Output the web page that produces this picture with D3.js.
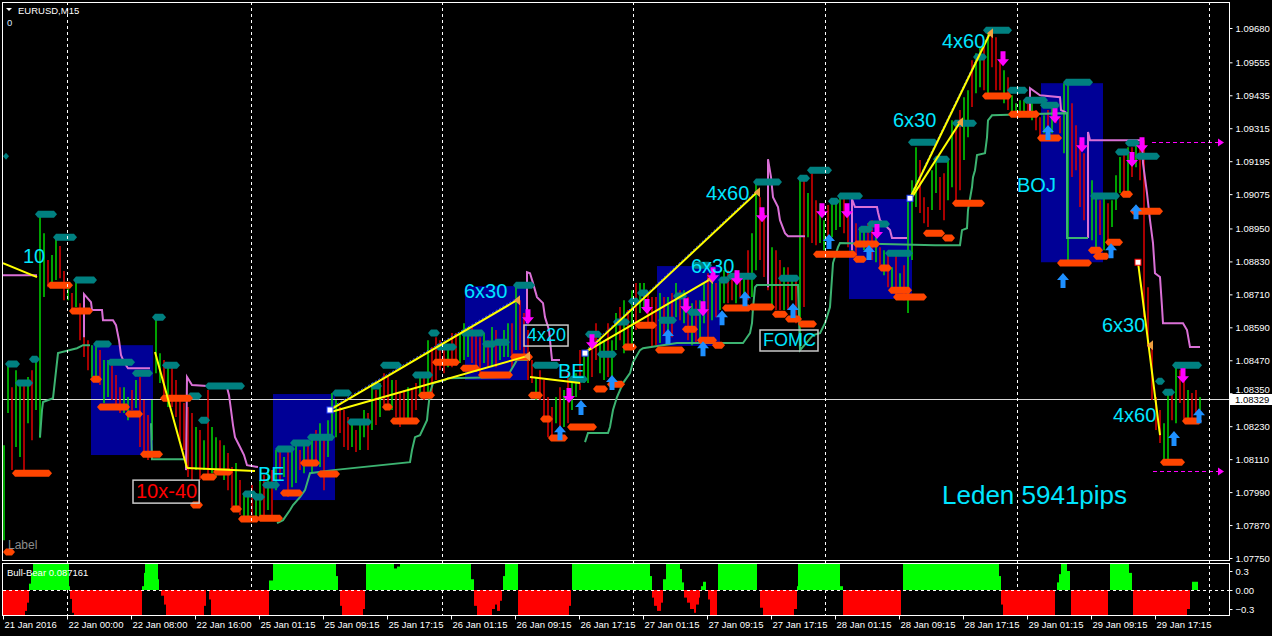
<!DOCTYPE html>
<html>
<head>
<meta charset="utf-8">
<script src="https://cdnjs.cloudflare.com/ajax/libs/d3/7.8.5/d3.min.js"></script>
<style>
body { margin: 0; background: #000; }
svg { display: block; font-family: "Liberation Sans", Arial, sans-serif; }
</style>
</head>
<body>
<script>
// ---- data (bar index = M15 bars from 21 Jan 16:00) ----
var timeLabels = ["21 Jan 2016","22 Jan 00:00","22 Jan 08:00","22 Jan 16:00","25 Jan 01:15","25 Jan 09:15","25 Jan 17:15",
	"26 Jan 01:15","26 Jan 09:15","26 Jan 17:15","27 Jan 01:15","27 Jan 09:15","27 Jan 17:15","28 Jan 01:15",
	"28 Jan 09:15","28 Jan 17:15","29 Jan 01:15","29 Jan 09:15","29 Jan 17:15"];
var timeBars = [0,32,64,96,128,160,192,224,256,288,320,352,384,416,448,480,512,544,576];
var dayBars = [32,124,219.5,315,411,507,603];

var priceTicks = [1.09680,1.09555,1.09435,1.09315,1.09195,1.09075,1.08950,1.08830,1.08710,1.08590,
	1.08470,1.08350,1.08230,1.08110,1.07990,1.07870,1.07750];
var lastPrice = 1.08329;

// one candle every 2 bars
var candleHigh = [
1.08161,1.08460,1.08372,1.08434,1.08380,1.08398,1.08409,1.08434,1.08482,1.08998,
1.08933,1.08835,1.08853,1.08915,1.08886,1.08795,1.08736,1.08715,1.08755,1.08678,
1.08616,1.08543,1.08525,1.08533,1.08507,1.08471,1.08471,1.08452,1.08416,1.08372,
1.08372,1.08336,1.08362,1.08398,1.08409,1.08325,1.08271,1.08325,1.08624,1.08496,
1.08471,1.08460,1.08445,1.08398,1.08336,1.08314,1.08300,1.08278,1.08227,1.08216,
1.08179,1.08362,1.08227,1.08190,1.08179,1.08161,1.08132,1.08081,1.08096,1.08034,
1.07987,1.07979,1.08016,1.07987,1.08034,1.08052,1.08070,1.08070,1.08143,1.08143,
1.08118,1.08143,1.08154,1.08179,1.08143,1.08169,1.08161,1.08190,1.08216,1.08241,
1.08190,1.08252,1.08351,1.08325,1.08300,1.08289,1.08263,1.08252,1.08216,1.08252,
1.08289,1.08278,1.08387,1.08362,1.08387,1.08423,1.08409,1.08398,1.08398,1.08351,
1.08362,1.08372,1.08362,1.08387,1.08409,1.08416,1.08543,1.08518,1.08554,1.08543,
1.08533,1.08507,1.08569,1.08569,1.08569,1.08605,1.08591,1.08591,1.08580,1.08554,
1.08569,1.08543,1.08591,1.08580,1.08533,1.08580,1.08605,1.08605,1.08751,1.08689,
1.08642,1.08580,1.08471,1.08409,1.08434,1.08398,1.08336,1.08300,1.08336,1.08372,
1.08362,1.08423,1.08409,1.08423,1.08507,1.08507,1.08507,1.08518,1.08605,1.08554,
1.08543,1.08605,1.08543,1.08642,1.08664,1.08689,1.08653,1.08725,1.08751,1.08751,
1.08751,1.08715,1.08700,1.08700,1.08715,1.08700,1.08700,1.08715,1.08751,1.08725,
1.08725,1.08700,1.08678,1.08689,1.08689,1.08751,1.08787,1.08751,1.08751,1.08762,
1.08798,1.08798,1.08787,1.08798,1.08787,1.08787,1.08871,1.08933,1.09115,1.09064,
1.09006,1.08991,1.08882,1.08871,1.08835,1.08809,1.08809,1.08773,1.08773,1.09133,
1.09137,1.09079,1.09151,1.09053,1.09042,1.08980,1.09035,1.09053,1.09053,1.09064,
1.09064,1.09006,1.09006,1.08969,1.08955,1.08955,1.08969,1.08980,1.08933,1.08882,
1.08871,1.08860,1.08809,1.08860,1.08787,1.08816,1.09053,1.09126,1.09246,1.09199,
1.09064,1.09028,1.09162,1.09199,1.09137,1.09151,1.09199,1.09344,1.09344,1.09381,
1.09428,1.09453,1.09563,1.09588,1.09610,1.09617,1.09661,1.09661,1.09646,1.09563,
1.09526,1.09501,1.09435,1.09406,1.09417,1.09417,1.09406,1.09406,1.09381,1.09355,
1.09362,1.09381,1.09392,1.09392,1.09355,1.09479,1.09479,1.09406,1.09326,1.09271,
1.09224,1.09188,1.09126,1.09079,1.09053,1.09079,1.09042,1.09053,1.09144,1.09210,
1.09235,1.09246,1.09246,1.09261,1.09246,1.09271,1.08736,1.08518,1.08336,1.08289,
1.08241,1.08351,1.08351,1.08445,1.08434,1.08423,1.08362,1.08351,1.08362,1.08336];
var candleLow = [
1.07815,1.08278,1.08070,1.08154,1.08118,1.08070,1.08241,1.08179,1.08289,1.08187,
1.08700,1.08736,1.08736,1.08762,1.08769,1.08689,1.08689,1.08642,1.08664,1.08543,
1.08482,1.08434,1.08409,1.08409,1.08380,1.08314,1.08336,1.08325,1.08307,1.08278,
1.08278,1.08252,1.08289,1.08296,1.08154,1.08132,1.08107,1.08179,1.08423,1.08387,
1.08325,1.08300,1.08300,1.08263,1.08179,1.08143,1.08045,1.08034,1.08070,1.08034,
1.08070,1.08045,1.08059,1.08045,1.08070,1.08034,1.07997,1.07936,1.07925,1.07907,
1.07888,1.07888,1.07907,1.07899,1.07899,1.07907,1.07925,1.07899,1.07997,1.08034,
1.08045,1.07972,1.08008,1.08023,1.08070,1.08059,1.08088,1.08059,1.08088,1.08081,
1.07997,1.08118,1.08179,1.08190,1.08205,1.08154,1.08143,1.08154,1.08136,1.08143,
1.08190,1.08143,1.08216,1.08234,1.08263,1.08300,1.08289,1.08289,1.08263,1.08227,
1.08252,1.08252,1.08241,1.08289,1.08336,1.08325,1.08336,1.08351,1.08398,1.08434,
1.08423,1.08445,1.08445,1.08452,1.08460,1.08471,1.08482,1.08460,1.08434,1.08423,
1.08460,1.08445,1.08445,1.08445,1.08471,1.08482,1.08482,1.08445,1.08507,1.08507,
1.08482,1.08398,1.08387,1.08325,1.08325,1.08263,1.08190,1.08190,1.08241,1.08216,
1.08227,1.08241,1.08289,1.08336,1.08362,1.08387,1.08387,1.08409,1.08471,1.08423,
1.08398,1.08409,1.08409,1.08507,1.08543,1.08496,1.08507,1.08518,1.08580,1.08642,
1.08653,1.08591,1.08518,1.08525,1.08533,1.08562,1.08580,1.08554,1.08627,1.08616,
1.08605,1.08543,1.08525,1.08533,1.08533,1.08605,1.08554,1.08616,1.08627,1.08653,
1.08678,1.08678,1.08689,1.08678,1.08700,1.08678,1.08689,1.08700,1.08798,1.08835,
1.08773,1.08725,1.08664,1.08653,1.08653,1.08653,1.08653,1.08689,1.08605,1.08507,
1.08664,1.08918,1.08897,1.08889,1.08897,1.08871,1.08889,1.08918,1.08944,1.08955,
1.08933,1.08882,1.08860,1.08846,1.08882,1.08871,1.08853,1.08835,1.08827,1.08809,
1.08780,1.08736,1.08736,1.08700,1.08715,1.08689,1.08642,1.08835,1.09028,1.09006,
1.08969,1.08955,1.09017,1.09079,1.09017,1.08980,1.09053,1.09100,1.09042,1.09089,
1.09199,1.09282,1.09392,1.09442,1.09464,1.09453,1.09428,1.09537,1.09453,1.09453,
1.09406,1.09381,1.09362,1.09370,1.09355,1.09370,1.09355,1.09344,1.09308,1.09282,
1.09297,1.09271,1.09297,1.09333,1.09297,1.09224,1.08835,1.09137,1.09162,1.09028,
1.08980,1.08969,1.08907,1.08882,1.08926,1.08871,1.08897,1.08955,1.09017,1.09079,
1.09071,1.09079,1.09137,1.09173,1.09126,1.08627,1.08518,1.08325,1.08216,1.08169,
1.08096,1.08107,1.08252,1.08241,1.08314,1.08252,1.08241,1.08252,1.08278,1.08289];
var candleDir = "ggrggrgrgg" + "grggrrgrgr" + "rrggrggrrr" + "ggrgrrrggg" + "rgrrrrrrgr" +
	"grggrgrrgr" + "ggrggrgrgr" + "grggrgrgrg" + "rgggrrrgrg" + "grgrgrrgrr" +
	"rgrrgrgrrr" + "rgrrgggrrr" + "grgrgggrgr" + "rrrgrrrrgr" + "grggrggrrg" +
	"grggrgrgrg" + "grrrgrgrgr" + "grgrggrgrg" + "grrgrgrggr" + "rrgrrgrgrg" +
	"rgrrggrggg" + "rrgrggrrgr" + "grgrgrgggr" + "rrggrrggrr" + "ggrggrgrrr" +
	"grggggrgrr" + "grgrrggrrr" + "rrggrgrggg" + "rgrgrrrrrr" + "ggrgrrgrrg";

// session boxes [fromBar, toBar, top, bottom]
var sessionBoxes = [[44,75,1.08525,1.08125],[135,166,1.08347,1.07961],[231,262,1.08740,1.08398],
	[327,358.5,1.08813,1.08522],[423,454.5,1.09057,1.08693],[519,550,1.09479,1.08827]];

// resistance (teal) and support (orange) levels [fromBar, toBar, price]
var resistLevels = [[0,3,1.09213],[16,27,1.09002],[25,37,1.08918],[35,47,1.08762],[74.5,81.5,1.08627],
	[1,8.5,1.08456],[6,15,1.08387],[13,18.5,1.08474],[45,54.5,1.08529],[52,66,1.08463],[64.5,75,1.08423],
	[79.5,88.5,1.08452],[92,99.5,1.08340],[97.5,103.5,1.08252],[101,121,1.08376],[119.5,127,1.07983],
	[124.5,131,1.07972],[129.5,138.5,1.08016],[136,146,1.08147],[143.5,154.5,1.08169],[152,166,1.08190],
	[164.5,174.5,1.08351],[172,184.5,1.08245],[183.5,189.5,1.08376],[188.5,199.5,1.08452],[212.5,218.5,1.08569],
	[204.5,215,1.08416],[216,227,1.08518],[228.5,241,1.08569],[239.5,247,1.08529],[245,253.5,1.08536],
	[255,266,1.08743],[264.5,278.5,1.08452],[282.5,292.5,1.08401],[291,299.5,1.08565],[297,307,1.08492],
	[305,313.5,1.08609],[312.5,318.5,1.08685],[317,323.5,1.08715],[327.5,337,1.08616],[335,342,1.08704],
	[342,350,1.08645],[344.5,354.5,1.08816],[357.5,363.5,1.08762],[362,377,1.08776],[375,389.5,1.09119],
	[387.5,398.5,1.08769],[397,403.5,1.09133],[402,414.5,1.09162],[412.5,418.5,1.09049],[417,430,1.09068],
	[427.5,435,1.08947],[432,443.5,1.08966],[441,455,1.08860],[452.5,467.5,1.09264],[465,473.5,1.09202],
	[474.5,487,1.09333],[485,492,1.09574],[490,504.5,1.09672],[502,512.5,1.09453],[510,522.5,1.09417],
	[518.5,528.5,1.09399],[530,545,1.09482],[543.5,558.5,1.09068],[556,563.5,1.09228],[561,568.5,1.09261],
	[566,578.5,1.09213],[576,581,1.08394],[579.5,586,1.08354],[584.5,599.5,1.08452]];
var supportLevels = [[22,35,1.08743],[33,45,1.08649],[43.5,49.5,1.08401],[47,63.5,1.08300],[61,70,1.08274],
	[68.5,80,1.08128],[4.5,24.5,1.08059],[78.5,95,1.08332],[93.5,100,1.07943],[98.5,107,1.08045],
	[105,115,1.08063],[113.5,119.5,1.07928],[117.5,128.5,1.07892],[127,140,1.07895],[138.5,150,1.07987],
	[148.5,158.5,1.08096],[157,168.5,1.08056],[0,6,1.07772],[189.5,195,1.08300],[193.5,208.5,1.08249],
	[207.5,216,1.08343],[214.5,228.5,1.08463],[228.5,238.5,1.08441],[237.5,255,1.08416],[253.5,265,1.08482],
	[262.5,270,1.08343],[268.5,275,1.08256],[272.5,282.5,1.08187],[282,297,1.08227],[295,302.5,1.08365],
	[302,311,1.08383],[309.5,317,1.08518],[316,327,1.08598],[326,341,1.08507],[339.5,347.5,1.08583],
	[347,357,1.08543],[354.5,361,1.08525],[359.5,374.5,1.08660],[372.5,386,1.08664],[384.5,392.5,1.08638],
	[391,399.5,1.08620],[397.5,407,1.08602],[405,427,1.08856],[425,432,1.08838],[425,438.5,1.08893],
	[437.5,444.5,1.08806],[442.5,454.5,1.08725],[445,462,1.08700],[460,471,1.08933],[469.5,476,1.08915],
	[474.5,491,1.09042],[489.5,504.5,1.09432],[502.5,518.5,1.09366],[517,529.5,1.09279],[527,544.5,1.08824],
	[542.5,550,1.08871],[545,553.5,1.08849],[551,560,1.08900],[558.5,565,1.09075],[563.5,580,1.09013],
	[578.5,591,1.08099],[589.5,599.5,1.08249]];

// trailing stop lines, one array per unbroken piece [bar, price]
var upperStop = [
	[[0,1.08780],[17,1.08780]],
	[[40.5,1.08554],[40.5,1.08711],[44,1.08682],[44.5,1.08653],[49.5,1.08653],[50,1.08616],[55,1.08616],
	 [56.5,1.08598],[58,1.08543],[59,1.08489],[60.5,1.08463],[62.5,1.08441],[73.5,1.08441]],
	[[91.5,1.08070],[92,1.08409],[94.5,1.08380],[112,1.08372],[113,1.08343],[114,1.08289],[115,1.08234],
	 [116,1.08190],[118.5,1.08154],[120.5,1.08125],[122,1.08088],[127.5,1.08081]],
	[[262,1.08605],[262,1.08791],[263.5,1.08787],[265,1.08751],[267,1.08700],[270,1.08678],[271,1.08627],
	 [273,1.08580],[274,1.08507],[274.5,1.08471],[278.5,1.08471]],
	[[382.5,1.08736],[382.5,1.09202],[384,1.09137],[385,1.09064],[387.5,1.09028],[388.5,1.08980],
	 [391,1.08933],[392.5,1.08922],[401,1.08922]],
	[[424.5,1.08871],[424.5,1.09057],[426,1.09028],[437,1.09028],[437.5,1.09009],[438.5,1.08980],
	 [443.5,1.08944],[444.5,1.08915],[452,1.08915]],
	[[513.5,1.09373],[513.5,1.09461],[518.5,1.09435],[528.5,1.09428],[529,1.09381],[531.5,1.09373]],
	[[542.5,1.08915],[542.5,1.09301],[543.5,1.09271],[569.5,1.09271],[570,1.09188],[572,1.09079],
	 [572.5,1.09046],[573.5,1.08980],[575,1.08897],[576,1.08787],[578.5,1.08773],[579.5,1.08664],
	 [580,1.08605],[590,1.08605],[592,1.08580],[593.5,1.08518],[598.5,1.08518]]];
var lowerStop = [
	[[18.5,1.08190],[19.5,1.08289],[20,1.08318],[25,1.08332],[26,1.08398],[27.5,1.08496],[37,1.08514],
	 [40,1.08525],[43.5,1.08525]],
	[[74,1.08241],[74.5,1.08110],[91,1.08110]],
	[[137,1.07877],[140,1.07888],[143.5,1.07925],[145,1.07943],[148.5,1.07972],[151,1.07997],[153.5,1.08059],
	 [165,1.08070],[203.5,1.08099],[204.5,1.08143],[206,1.08190],[208.5,1.08197],[212,1.08252],[212.5,1.08289],
	 [213.5,1.08351],[215,1.08387],[221,1.08398],[222.5,1.08405],[252,1.08409],[257,1.08471],[262.5,1.08471]],
	[[291,1.08172],[292.5,1.08205],[302.5,1.08205],[303.5,1.08227],[305,1.08289],[307,1.08336],[310,1.08387],
	 [313.5,1.08423],[315,1.08463],[318.5,1.08507],[320,1.08514],[337,1.08533],[370,1.08533],[371,1.08543],
	 [373.5,1.08569],[374.5,1.08605],[375,1.08660],[376,1.08736],[377,1.08744],[397.5,1.08744],
	 [398.5,1.08507],[402,1.08536],[405,1.08562],[408.5,1.08569],[411,1.08605],[413.5,1.08664],[415,1.08824],
	 [417.5,1.08882],[418.5,1.08897],[466,1.08889],[478.5,1.08889],[479.5,1.08944],[482,1.08951],
	 [482.5,1.09017],[484.5,1.09100],[485,1.09137],[486,1.09162],[487,1.09217],[491,1.09224],[492,1.09282],
	 [492.5,1.09344],[494.5,1.09362],[532,1.09370],[532,1.08915],[542.5,1.08915]]];

// trade lines [bar1, price1, bar2, price2]
var tradeLines = [[0,1.08824,17,1.08773],[76,1.08500,92,1.08078],[92,1.08078,126,1.08067],
	[163.5,1.08289,257,1.08689],[163.5,1.08281,262,1.08485],[263.5,1.08409,288.5,1.08387],
	[291,1.08496,377,1.09082],[292,1.08503,353.5,1.08765],[453.5,1.09060,493.5,1.09661],
	[454.5,1.09064,478.5,1.09337],[567.5,1.08827,578.5,1.08197]];
var entryPoints = [[163.5,1.08289],[291,1.08496],[453.5,1.09060]];
var targetPoints = [[257,1.08689],[262,1.08485],[377,1.09082],[353.5,1.08765],[493.5,1.09661],[478.5,1.09337],[573.5,1.08525]];

// signal arrows [bar, price]
var sellArrows = [[262.5,1.08627],[283,1.08340],[294.5,1.08536],[322,1.08664],[341.5,1.08667],[350,1.08656],
	[355,1.08780],[367,1.08769],[379.5,1.08998],[409.5,1.09013],[422,1.09013],[437,1.08937],[500,1.09566],
	[526,1.09359],[539.5,1.09253],[564.5,1.09199],[569.5,1.09253],[590,1.08412]];
var buyArrows = [[289,1.08300],[304.5,1.08391],[278.5,1.08208],[332.5,1.08558],[350,1.08514],[359.5,1.08627],
	[371,1.08696],[395,1.08653],[413,1.08904],[433,1.08864],[522.5,1.09301],[530,1.08762],[554,1.08871],
	[566.5,1.09013],[585.5,1.08187],[598,1.08270]];

// notes [bar, price, text]
var notes = [[10,1.08824,"10"],[66.5,1.07968,"10x-40"],[127.5,1.08030,"BE"],[230.5,1.08696,"6x30"],
	[262,1.08540,"4x20"],[277.5,1.08405,"BE"],[351.5,1.09053,"4x60"],[344,1.08787,"6x30"],
	[380,1.08522,"FOMC"],[445,1.09319,"6x30"],[469.5,1.09606,"4x60"],[507,1.09082,"BOJ"],
	[549.5,1.08573,"6x30"],[555,1.08245,"4x60"],[469.5,1.07946,"Leden 5941pips"],[2.5,1.07783,"Label"]];
var targetArrows = [[574.5,610.5,1.09264],[575,610.5,1.08067]];

// Bull-Bear histogram runs [fromBar, toBar, value]
var bullBear = [[0,11,-0.45],[11,12,-0.33],[12,13,-0.2],[13,14,0.1],[14,15,0.27],[15,33,0.45],[33,33.5,0.06],
	[33.5,34.5,-0.14],[34.5,35.5,-0.36],[35.5,69.5,-0.45],[69.5,70.5,0.06],[70.5,71,0.27],[71,77.5,0.45],
	[77.5,78,0.17],[79,80.5,-0.09],[80.5,81.5,-0.23],[81.5,100.5,-0.45],[100.5,101.5,-0.25],[103,104,-0.15],
	[104,133,-0.45],[133,135,0.15],[135,166.5,0.45],[166.5,167.5,0.22],[168.5,169.5,-0.25],[169.5,180,-0.45],
	[180,181,-0.3],[181.5,195.5,0.45],[195.5,197,0.34],[197,198.5,0.37],[198.5,234,0.45],[234,235.5,0.17],
	[235.5,237,-0.25],[237,244.5,-0.45],[244.5,246,-0.3],[246,247,-0.23],[247,248.5,-0.33],[248.5,249.5,-0.17],
	[250,251,0.22],[251,257.5,0.45],[257.5,283,-0.45],[283,284,-0.25],[284.5,323.5,0.45],[323.5,324.5,0.22],
	[324.5,325.5,-0.12],[325.5,327,-0.25],[327,329,-0.33],[329,330,-0.2],[330,331.5,0.17],[331.5,338.5,0.45],
	[338.5,339.5,0.33],[339.5,340.5,0.12],[340.5,342,-0.12],[342,343.5,-0.2],[343.5,345.5,-0.3],
	[345.5,346.5,-0.36],[346.5,348,-0.23],[348,348.5,-0.12],[349,350,0.06],[350,351.5,0.13],
	[352.5,353.5,-0.15],[353.5,357,-0.45],[357.5,377,0.45],[378.5,380,-0.28],[380,395.5,-0.45],
	[395.5,397,-0.3],[397,397.5,0.06],[397.5,418.5,0.45],[418.5,420,0.06],[420,449,-0.45],[450,498,0.45],
	[498,499,0.22],[499,500,-0.23],[500,526,-0.45],[527,528,0.12],[528,529,0.25],[529,532,0.45],
	[532,533.5,0.3],[534,552.5,-0.45],[553.5,563,0.45],[563,564.5,0.27],[565,592,-0.45],[592,593.5,-0.3],
	[594.5,597.5,0.13]];
var bullBearTicks = [0.3, 0, -0.3];

// ---- drawing ----
var width = 1272, height = 636;
var left = 3, right = 1229, mainTop = 2, mainBottom = 560, subTop = 563, subBottom = 615;

var x = d3.scaleLinear().domain([0, 613]).range([left, right]);
var y = d3.scaleLinear().domain([1.0775, 1.0968]).range([558, 28]);
var ySub = d3.scaleLinear().domain([-0.3, 0.3]).range([609, 571]);

var svg = d3.select("body").append("svg")
	.attr("width", width)
	.attr("height", height)
	.style("background", "#000");

svg.append("clipPath").attr("id", "mainClip")
	.append("rect").attr("x", left).attr("y", mainTop).attr("width", right - left).attr("height", mainBottom - mainTop);
svg.append("clipPath").attr("id", "subClip")
	.append("rect").attr("x", left).attr("y", subTop + 1).attr("width", right - left).attr("height", subBottom - subTop - 1);

var main = svg.append("g").attr("clip-path", "url(#mainClip)");

main.selectAll(".box")
	.data(sessionBoxes)
	.enter().append("rect")
		.attr("x", function(d){ return x(d[0]); })
		.attr("width", function(d){ return x(d[1]) - x(d[0]); })
		.attr("y", function(d){ return y(d[2]); })
		.attr("height", function(d){ return y(d[3]) - y(d[2]); })
		.attr("fill", "#000096");

//day separators
svg.selectAll(".day")
	.data(dayBars)
	.enter().append("line")
		.attr("x1", function(d){ return Math.round(x(d)) + 0.5; })
		.attr("x2", function(d){ return Math.round(x(d)) + 0.5; })
		.attr("y1", mainTop)
		.attr("y2", subBottom)
		.attr("stroke", "#fff")
		.attr("stroke-dasharray", "3,3");

main.append("line")
	.attr("x1", left).attr("x2", right)
	.attr("y1", Math.round(y(lastPrice)) + 0.5).attr("y2", Math.round(y(lastPrice)) + 0.5)
	.attr("stroke", "#d8d8d8");

//candles
main.selectAll(".candle")
	.data(candleHigh)
	.enter().append("line")
		.attr("x1", function(d, i){ return Math.round(x(i * 2)) + 1; })
		.attr("x2", function(d, i){ return Math.round(x(i * 2)) + 1; })
		.attr("y1", function(d){ return y(d); })
		.attr("y2", function(d, i){ return y(candleLow[i]); })
		.attr("stroke", function(d, i){ return candleDir[i] == "g" ? "#00d800" : "#e00000"; })
		.attr("stroke-width", 2)
		.attr("stroke-opacity", 0.75);

var stopLine = d3.line()
	.x(function(d){ return x(d[0]); })
	.y(function(d){ return y(d[1]); });

main.selectAll(".upper")
	.data(upperStop)
	.enter().append("path")
		.attr("d", stopLine)
		.attr("fill", "none")
		.attr("stroke", "#da70d6")
		.attr("stroke-width", 2);
main.selectAll(".lower")
	.data(lowerStop)
	.enter().append("path")
		.attr("d", stopLine)
		.attr("fill", "none")
		.attr("stroke", "#3cb371")
		.attr("stroke-width", 2);

function levelShape(d){
	var x0 = x(d[0]), x1 = x(d[1]), yc = y(d[2]), h = 3.5, e = 3;
	return "M" + x0 + "," + yc + "L" + (x0 + e) + "," + (yc - h) + "L" + (x1 - e) + "," + (yc - h) +
		"L" + x1 + "," + yc + "L" + (x1 - e) + "," + (yc + h) + "L" + (x0 + e) + "," + (yc + h) + "Z";
}
main.selectAll(".res")
	.data(resistLevels)
	.enter().append("path")
		.attr("d", levelShape)
		.attr("fill", "#008080");
main.selectAll(".sup")
	.data(supportLevels)
	.enter().append("path")
		.attr("d", levelShape)
		.attr("fill", "#ff4500");

//trade lines, with the dotted blue guide on the long ones
main.selectAll(".guide")
	.data([tradeLines[3], tradeLines[6], tradeLines[8]])
	.enter().append("line")
		.attr("x1", function(d){ return x(d[0]); })
		.attr("y1", function(d){ return y(d[1]) - 2; })
		.attr("x2", function(d){ return x(d[2]); })
		.attr("y2", function(d){ return y(d[3]) - 2; })
		.attr("stroke", "#3050ff")
		.attr("stroke-dasharray", "2,2");
main.selectAll(".trade")
	.data(tradeLines)
	.enter().append("line")
		.attr("x1", function(d){ return x(d[0]); })
		.attr("y1", function(d){ return y(d[1]); })
		.attr("x2", function(d){ return x(d[2]); })
		.attr("y2", function(d){ return y(d[3]); })
		.attr("stroke", "#ffff00")
		.attr("stroke-width", 2);

main.selectAll(".entry")
	.data(entryPoints)
	.enter().append("rect")
		.attr("x", function(d){ return x(d[0]) - 3; })
		.attr("y", function(d){ return y(d[1]) - 3; })
		.attr("width", 6).attr("height", 6)
		.attr("fill", "#fff")
		.attr("stroke", "#2040ff");
main.append("rect")
	.attr("x", x(567.5) - 3).attr("y", y(1.08827) - 3)
	.attr("width", 6).attr("height", 6)
	.attr("fill", "#fff").attr("stroke", "#ff0000");
main.selectAll(".target")
	.data(targetPoints)
	.enter().append("path")
		.attr("transform", function(d){ return "translate(" + x(d[0]) + "," + y(d[1]) + ")"; })
		.attr("d", "M-3,0L3,-5L3,5Z")
		.attr("fill", "#f0a040");

//arrows
main.selectAll(".sell")
	.data(sellArrows)
	.enter().append("path")
		.attr("transform", function(d){ return "translate(" + x(d[0]) + "," + y(d[1]) + ")"; })
		.attr("d", "M-2.5,-8L2.5,-8L2.5,0L6,0L0,7L-6,0L-2.5,0Z")
		.attr("fill", "#ff00ff");
main.selectAll(".buy")
	.data(buyArrows)
	.enter().append("path")
		.attr("transform", function(d){ return "translate(" + x(d[0]) + "," + y(d[1]) + ")"; })
		.attr("d", "M-2.5,8L2.5,8L2.5,0L6,0L0,-7L-6,0L-2.5,0Z")
		.attr("fill", "#1e90ff");

main.selectAll(".tgt")
	.data(targetArrows)
	.enter().append("line")
		.attr("x1", function(d){ return x(d[0]); })
		.attr("x2", function(d){ return x(d[1]) - 4; })
		.attr("y1", function(d){ return Math.round(y(d[2])) + 0.5; })
		.attr("y2", function(d){ return Math.round(y(d[2])) + 0.5; })
		.attr("stroke", "#ff00ff")
		.attr("stroke-dasharray", "4,3");
main.selectAll(".tgthead")
	.data(targetArrows)
	.enter().append("path")
		.attr("transform", function(d){ return "translate(" + x(d[1]) + "," + (Math.round(y(d[2])) + 0.5) + ")"; })
		.attr("d", "M0,0L-6,-4L-6,4Z")
		.attr("fill", "#ff00ff");

//notes
var noteText = main.selectAll(".note")
	.data(notes)
	.enter().append("text")
		.attr("x", function(d){ return x(d[0]); })
		.attr("y", function(d){ return y(d[1]); })
		.attr("font-size", function(d){
			if (d[2] == "Leden 5941pips") return 26;
			if (d[2] == "Label") return 12;
			if (d[2] == "4x20" || d[2] == "FOMC") return 18;
			return 20;
		})
		.attr("fill", function(d){
			if (d[2] == "10x-40") return "#ff0000";
			if (d[2] == "Label") return "#8c8c8c";
			return "#00e5ff";
		})
		.text(function(d){ return d[2]; });
noteText.filter(function(d){ return d[2] == "10x-40" || d[2] == "4x20" || d[2] == "FOMC"; })
	.each(function(){
		var b = this.getBBox();
		main.insert("rect", function(){ return this; }.bind(this))
			.attr("x", b.x - 3).attr("y", b.y)
			.attr("width", b.width + 5).attr("height", b.height + 1)
			.attr("fill", "none")
			.attr("stroke", "#c8c8c8")
			.attr("stroke-width", 1.5);
	});

//sub window
var sub = svg.append("g").attr("clip-path", "url(#subClip)");
sub.selectAll(".bb")
	.data(bullBear)
	.enter().append("rect")
		.attr("x", function(d){ return x(d[0]); })
		.attr("width", function(d){ return x(d[1]) - x(d[0]); })
		.attr("y", function(d){ return ySub(Math.max(d[2], 0)); })
		.attr("height", function(d){ return Math.abs(ySub(d[2]) - ySub(0)); })
		.attr("fill", function(d){ return d[2] > 0 ? "#00ff00" : "#ff0000"; });
sub.append("line")
	.attr("x1", left).attr("x2", right)
	.attr("y1", Math.round(ySub(0)) + 0.5).attr("y2", Math.round(ySub(0)) + 0.5)
	.attr("stroke", "#fff")
	.attr("stroke-dasharray", "3,3");

//frames
svg.append("rect").attr("x", left - 0.5).attr("y", mainTop + 0.5)
	.attr("width", right - left + 1).attr("height", mainBottom - mainTop)
	.attr("fill", "none").attr("stroke", "#fff");
svg.append("rect").attr("x", left - 0.5).attr("y", subTop + 0.5)
	.attr("width", right - left + 1).attr("height", subBottom - subTop)
	.attr("fill", "none").attr("stroke", "#fff");

//axes
var priceAxis = svg.append("g")
	.attr("transform", "translate(" + (right + 0.5) + ",0)")
	.call(d3.axisRight(y).tickValues(priceTicks).tickFormat(d3.format(".5f")).tickSize(3));
var subAxis = svg.append("g")
	.attr("transform", "translate(" + (right + 0.5) + ",0)")
	.call(d3.axisRight(ySub).tickValues(bullBearTicks)
		.tickFormat(function(d){ return d == 0 ? "0.00" : d3.format(".1f")(d); }).tickSize(3));
var timeAxis = svg.append("g")
	.attr("transform", "translate(0," + (subBottom + 0.5) + ")")
	.call(d3.axisBottom(x).tickValues(timeBars).tickFormat(function(d, i){ return timeLabels[i]; }).tickSize(4));
timeAxis.selectAll("text").attr("text-anchor", "start").attr("dx", 1).attr("dy", "0.55em");

[priceAxis, subAxis, timeAxis].forEach(function(g){
	g.select(".domain").remove();
	g.selectAll("line").attr("stroke", "#fff");
	g.selectAll("text").attr("fill", "#fff").attr("font-size", 9.5)
		.attr("font-family", "'Liberation Sans', Arial, sans-serif");
});
priceAxis.selectAll("text").attr("x", 6);
subAxis.selectAll("text").attr("x", 6);
// the tag of the last price sits over the nearest level label, as in the terminal
priceAxis.selectAll(".tick").filter(function(d){ return Math.abs(y(d) - y(lastPrice)) < 8; })
	.select("text").attr("dy", "-0.05em");

//last price tag
svg.append("rect").attr("x", right + 1).attr("y", y(lastPrice) - 5)
	.attr("width", 42).attr("height", 11).attr("fill", "#fff");
svg.append("text").attr("x", right + 6).attr("y", y(lastPrice) + 4)
	.attr("font-size", 9.5).attr("fill", "#000")
	.text(d3.format(".5f")(lastPrice));

//titles
svg.append("path").attr("d", "M6,8L12,8L9,11Z").attr("fill", "#fff");
svg.append("text").attr("x", 18).attr("y", 14).attr("font-size", 9.5).attr("fill", "#fff").text("EURUSD,M15");
svg.append("text").attr("x", 7).attr("y", 26).attr("font-size", 9.5).attr("fill", "#dde8ff").text("0");
svg.append("text").attr("x", 7).attr("y", 576).attr("font-size", 9.5).attr("fill", "#fff").text("Bull-Bear 0.087161");
</script>
</body>
</html>
